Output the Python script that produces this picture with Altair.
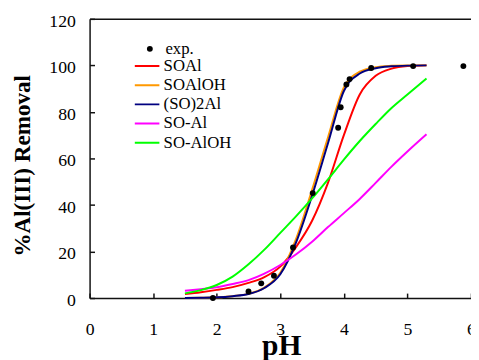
import altair as alt
import pandas as pd

# ---- data ----
ph_grid = [1.5, 1.75, 2.0, 2.25, 2.5, 2.75, 3.0, 3.25, 3.5, 3.75, 4.0, 4.25, 4.5, 4.75, 5.0, 5.3]
soal = [1.7, 2.5, 3.5, 4.7, 6.5, 9.0, 13.5, 22.0, 33.2, 49.5, 70.0, 87.5, 95.5, 98.6, 99.7, 100.0]
soaloh = [0.0, 0.1, 0.3, 0.8, 1.8, 4.5, 10.8, 25.5, 46.5, 69.0, 90.5, 97.3, 99.2, 99.8, 100.0, 100.0]
so2al = [0.0, 0.1, 0.3, 0.8, 1.7, 4.3, 10.2, 24.0, 44.0, 66.5, 89.0, 96.5, 98.8, 99.6, 99.9, 100.0]
so_al = [3.1, 3.8, 4.6, 6.0, 7.7, 10.5, 14.2, 18.8, 24.2, 30.5, 36.5, 42.6, 49.5, 56.5, 63.0, 70.4]
so_aloh = [2.0, 3.4, 5.6, 9.2, 14.5, 20.8, 28.0, 35.2, 42.8, 51.0, 59.5, 67.5, 74.8, 81.7, 87.5, 94.4]

series_names = ["SOAl", "SOAlOH", "(SO)2Al", "SO-Al", "SO-AlOH"]
series_colors = ["#ff0000", "#ff9900", "#000080", "#ff00ff", "#00ff00"]

exp_ph = [1.94, 2.50, 2.70, 2.90, 3.20, 3.51, 3.91, 3.95, 4.04, 4.09, 4.43, 5.09, 5.88]
exp_removal = [0.0, 2.8, 6.3, 9.6, 21.7, 45.1, 73.2, 82.0, 91.8, 94.1, 98.9, 99.7, 99.7]

x_ticks = [0, 1, 2, 3, 4, 5, 6]
y_ticks = [0, 20, 40, 60, 80, 100, 120]

# ---- tables ----
rows = []
for name, vals in zip(series_names, [soal, soaloh, so2al, so_al, so_aloh]):
    for p, v in zip(ph_grid, vals):
        rows.append({"ph": p, "removal": v, "series": name})
lines_df = pd.DataFrame(rows)
exp_df = pd.DataFrame({"ph": exp_ph, "removal": exp_removal, "kind": ["exp."] * len(exp_ph)})

SERIF = "Times New Roman, Liberation Serif, serif"
FRAME = "#111111"

xscale = alt.Scale(domain=[0, 6], nice=False)
yscale = alt.Scale(domain=[0, 120], nice=False)

# Layer A: curves, with inward ticks + labels
lines = alt.Chart(lines_df).mark_line(strokeWidth=2, interpolate="monotone").encode(
    x=alt.X("ph:Q", scale=xscale, axis=alt.Axis(
        orient="bottom", offset=-5, domain=False, ticks=True, tickSize=5, tickWidth=1.5,
        tickColor=FRAME, values=x_ticks, labelFont=SERIF, labelFontSize=18, labelColor="black",
        labelPadding=23, labelFlush=False, labelOverlap=False, grid=False, title=None)),
    y=alt.Y("removal:Q", scale=yscale, axis=alt.Axis(
        orient="left", offset=-5, domain=False, ticks=True, tickSize=5, tickWidth=1.5,
        tickColor=FRAME, values=y_ticks, labelFont=SERIF, labelFontSize=18, labelColor="black",
        labelPadding=14.5, labelOffset=2.5, labelFlush=False, labelOverlap=False, grid=False,
        title=None)),
    color=alt.Color("series:N", scale=alt.Scale(domain=series_names, range=series_colors),
                    sort=series_names,
                    legend=alt.Legend(orient="none", legendX=45, legendY=40, title=None,
                                      symbolType="stroke", symbolSize=625, symbolStrokeWidth=2,
                                      clipHeight=16, rowPadding=2.5, padding=0,
                                      labelFont=SERIF, labelFontSize=17, labelColor="black",
                                      labelOffset=3.3, labelLimit=300, labelBaseline="middle")),
)

# Layer B: experimental points, with frame (left/bottom) and titles
points = alt.Chart(exp_df).mark_point(filled=True, color="black", size=36, opacity=1).encode(
    x=alt.X("ph:Q", scale=xscale, axis=alt.Axis(
        orient="bottom", domain=True, domainColor=FRAME, domainWidth=1.5, ticks=False,
        labels=False, grid=False, title="pH", titleFont=SERIF, titleFontSize=30,
        titleFontWeight="bold", titleColor="black", titleX=195, titleY=57,
        titleAlign="center", titleBaseline="alphabetic")),
    y=alt.Y("removal:Q", scale=yscale, axis=alt.Axis(
        orient="left", domain=True, domainColor=FRAME, domainWidth=1.5, ticks=False,
        labels=False, grid=False, title="%Al(III) Removal", titleFont=SERIF, titleFontSize=23.5,
        titleFontWeight="bold", titleColor="black", titleAngle=270, titleX=-61, titleY=149,
        titleAlign="center", titleBaseline="alphabetic")),
    shape=alt.Shape("kind:N", scale=alt.Scale(domain=["exp."], range=["circle"]),
                    legend=alt.Legend(orient="none", legendX=52.8, legendY=22.5, title=None,
                                      symbolSize=36, symbolFillColor="black",
                                      symbolStrokeWidth=0, clipHeight=16, padding=0,
                                      labelFont=SERIF, labelFontSize=17, labelColor="black",
                                      labelOffset=7.3, labelLimit=300, labelBaseline="middle")),
)

# Layer C: invisible copy that only carries the top frame line
top = alt.Chart(exp_df).mark_point(opacity=0).encode(
    x=alt.X("ph:Q", scale=xscale, axis=alt.Axis(
        orient="top", domain=True, domainColor=FRAME, domainWidth=1.5, ticks=False,
        labels=False, grid=False, title=None)),
    y=alt.Y("removal:Q", scale=yscale, axis=None),
)

chart = alt.layer(lines, points, top).resolve_axis(
    x="independent", y="independent"
).properties(
    width=388, height=284,
    autosize=alt.AutoSizeParams(type="none"),
    padding={"left": 83, "top": 8, "right": 0, "bottom": 60},
    background="white",
).configure_view(stroke="transparent")

chart.save("out.html", embed_options={"renderer": "svg", "actions": False})
